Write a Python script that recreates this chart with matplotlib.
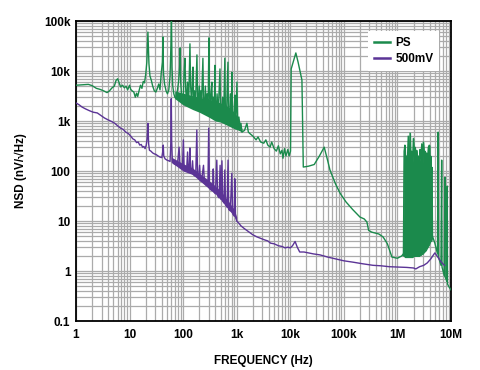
import matplotlib
matplotlib.use("Agg")
import matplotlib.pyplot as plt
from matplotlib.ticker import LogLocator, FixedLocator, NullFormatter
import numpy as np

# PS trace (Hz, nV/rtHz)
ps_freq = [1, 1.3, 1.7, 2.0, 2.4, 2.8, 3.3, 3.8, 4.2, 4.7, 5.2, 5.6, 6.0, 6.4, 6.8, 7.4, 8.0, 8.6, 9.2,
           10, 10.5, 11.2, 12, 12.8, 13.5, 14.2, 15, 16, 17, 18, 19, 20, 21, 22, 23, 24, 25.5, 27, 29,
           31, 33, 35, 37, 39, 41, 42, 43, 45, 48, 51, 54, 57, 59, 60.5, 62, 64, 67, 70, 74, 78, 82,
           86, 88, 90, 95, 100, 104, 108, 112, 116, 121, 127, 134, 138, 144, 150, 153, 157, 163, 170,
           176, 181, 186, 192, 200, 206, 213, 220, 228, 234, 240, 250, 260, 270, 280, 292, 303, 310,
           320, 333, 344, 352, 365, 380, 393, 400, 415, 430, 450, 470, 487, 500, 520, 545, 570, 600,
           615, 640, 686, 700, 730, 760, 790, 812, 830, 870, 900, 930, 960, 1010, 1050, 1100, 1150,
           1200, 1250, 1400, 1550, 1650, 1800, 2000, 2300, 2500, 2800, 3200, 3500, 3800, 4200, 4500,
           5000, 5500, 6000, 6500, 7000, 7300, 7800, 8300, 9000, 9500, 10100, 10400, 12700, 14000,
           16500, 17500, 22000, 28000, 35000, 43000, 50000, 55000, 70000, 85000, 110000, 146000,
           200000, 240000, 270000, 290000, 330000, 450000, 540000, 650000, 790000, 1.0e6, 1.2e6,
           1.29e6, 1.3e6, 4.4e6, 4.5e6, 5.0e6, 5.6e6, 5.75e6, 5.85e6, 6.5e6, 6.7e6, 6.8e6, 7.5e6,
           7.7e6, 7.8e6, 8.4e6, 8.5e6, 8.6e6, 9.2e6, 1.0e7]
ps_nsd = [5200, 5300, 5400, 5100, 4500, 4300, 4000, 3700, 4000, 4600, 5000, 6500, 7000, 5800, 4800,
          5200, 4600, 5000, 4200, 5200, 4300, 4000, 3800, 3000, 3600, 3100, 4000, 5200, 4500, 6200,
          5800, 8500, 15000, 60000, 14000, 8000, 6500, 5000, 4000, 3800, 4500, 5500, 4200, 9000,
          15000, 48000, 9000, 5500, 4000, 3500, 4200, 8000, 30000, 110000, 12000, 5000, 3500, 3000,
          2800, 4000, 6000, 12000, 29000, 6000, 2500, 2200, 9000, 18000, 4000, 2500, 6000, 2400,
          35000, 5000, 2200, 8000, 12000, 2500, 4000, 2000, 8000, 21000, 3000, 2000, 5000, 2500,
          4000, 2000, 7000, 18000, 2500, 1800, 5000, 2000, 3500, 1600, 46000, 4000, 1500, 4000,
          6000, 1500, 3000, 1400, 13000, 2500, 1300, 3500, 1300, 4000, 11000, 2000, 1100, 3000,
          1100, 18000, 1500, 1000, 15000, 1500, 950, 3500, 900, 9500, 1200, 850, 2000, 3300, 800,
          6000, 750, 1200, 650, 900, 600, 650, 900, 600, 550, 500, 420, 480, 380, 360, 420, 330,
          300, 380, 280, 250, 320, 220, 260, 180, 280, 200, 270, 200, 250, 11000, 23000, 15000,
          6600, 120, 125, 135, 200, 300, 160, 105, 55, 36, 24, 17, 12, 11, 9.5, 6.5, 6, 5.5, 4.8,
          3.5, 1.9, 1.8, 2.0, 2.2, 2.0, 4.0, 5.0, 3.6, 2.2, 600, 1.9, 1.3, 165, 1.2, 0.8, 75, 0.75,
          0.62, 50, 0.55, 0.48, 0.42]

# dense noise between the PS hum lines
ps_band_freq = [70, 100, 150, 200, 300, 400, 500, 700, 900, 1100, 1250]
ps_band_lo = [2800, 2100, 1700, 1500, 1200, 1000, 950, 800, 700, 650, 600]
ps_band_hi = [4000, 3600, 3200, 3000, 2700, 2500, 2300, 1900, 1500, 1100, 700]

# PS switching burst, 1.3 MHz to 4.4 MHz
burst_freq = [1.29e6, 1.33e6, 1.38e6, 1.43e6, 1.48e6, 1.53e6, 1.59e6, 1.65e6, 1.72e6, 1.78e6,
              1.84e6, 1.91e6, 1.98e6, 2.05e6, 2.13e6, 2.21e6, 2.29e6, 2.37e6, 2.46e6, 2.55e6,
              2.64e6, 2.74e6, 2.84e6, 2.94e6, 3.04e6, 3.15e6, 3.27e6, 3.39e6, 3.51e6, 3.64e6,
              3.77e6, 3.85e6, 3.93e6, 4.05e6, 4.16e6, 4.27e6, 4.37e6, 4.45e6]
burst_top = [2.2, 250, 330, 60, 200, 150, 500, 90, 575, 120, 250, 140, 450, 200, 300, 120, 260,
             150, 200, 110, 270, 180, 350, 140, 380, 200, 250, 120, 230, 160, 300, 150, 330, 130,
             200, 90, 120, 5]
burst_bottom = [2.2, 2.0, 1.9, 1.9, 1.9, 1.9, 1.9, 1.9, 1.9, 1.9, 1.9, 1.9, 2.0, 2.0, 2.0, 2.0, 2.0,
                2.0, 2.0, 2.0, 2.1, 2.1, 2.2, 2.2, 2.3, 2.4, 2.5, 2.6, 2.8, 3.0, 3.2, 3.3, 3.5, 3.8,
                4.1, 4.4, 4.8, 5.0]

# 500mV trace
mv_freq = [1, 1.15, 1.3, 1.5, 1.8, 2.1, 2.5, 2.9, 3.4, 4.0, 4.6, 5.3, 6.0, 6.8, 7.6, 8.5, 9.5, 10.5,
           11.5, 12.5, 13.5, 14.5, 15.5, 16.5, 17.5, 18.5, 19.5, 20.5, 21.3, 22, 22.7, 23.5, 25, 27,
           29, 31, 34, 37, 40, 41.5, 42.5, 43.5, 46, 50, 54, 57, 59, 60, 61, 63, 67, 72, 77, 80, 84,
           87, 92, 97, 101, 104, 110, 116, 121, 126, 131, 134, 138, 145, 150, 155, 165, 172, 180,
           186, 195, 203, 210, 220, 240, 250, 270, 290, 300, 310, 330, 355, 365, 375, 400, 425, 440,
           470, 490, 510, 530, 550, 580, 600, 620, 660, 690, 710, 760, 810, 840, 900, 920, 950, 1000,
           1100, 1200, 1400, 1700, 2000, 2400, 2800, 3300, 3800, 4300, 5000, 6000, 7000, 8000, 9000,
           10000, 11000, 12300, 13500, 15000, 18000, 22000, 27000, 36000, 50000, 70000, 100000,
           150000, 220000, 350000, 500000, 700000, 1.0e6, 1.5e6, 2.0e6, 2.2e6, 2.6e6, 3.1e6, 3.6e6,
           4.2e6, 4.7e6, 5.0e6, 5.5e6, 6.2e6, 7.0e6, 7.6e6]
mv_nsd = [2300, 2100, 1900, 1750, 1600, 1500, 1450, 1300, 1150, 1050, 980, 900, 800, 720, 680, 600,
          560, 500, 440, 420, 370, 380, 330, 340, 300, 310, 280, 330, 450, 900, 350, 260, 250, 230,
          220, 215, 200, 190, 185, 240, 330, 200, 175, 165, 160, 155, 400, 2800, 400, 150, 140, 135,
          130, 170, 300, 140, 120, 115, 420, 130, 110, 105, 240, 100, 95, 290, 95, 90, 160, 85, 80,
          85, 660, 80, 70, 130, 65, 62, 130, 58, 52, 50, 720, 45, 42, 40, 110, 38, 35, 165, 32, 29,
          130, 27, 160, 25, 23, 105, 21, 19, 165, 17, 16, 90, 14, 12.5, 70, 12, 10, 9, 8, 7, 6, 5.3,
          4.8, 4.5, 4.2, 4.0, 3.6, 3.5, 3.2, 3.1, 2.9, 3.0, 2.9, 3.2, 3.9, 3.0, 2.4, 2.4, 2.3, 2.2,
          2.1, 1.9, 1.75, 1.6, 1.5, 1.4, 1.3, 1.27, 1.22, 1.2, 1.18, 1.15, 1.1, 1.22, 1.3, 1.45, 1.75,
          2.1, 2.3, 2.0, 1.65, 1.4, 1.3]

mv_band_freq = [60, 100, 150, 200, 300, 400, 500, 700, 900, 1000]
mv_band_lo = [150, 100, 85, 65, 45, 35, 27, 17, 12.5, 10]
mv_band_hi = [190, 140, 115, 90, 65, 50, 40, 25, 17, 12]

x_ticks = [1, 10, 100, 1e3, 1e4, 1e5, 1e6, 1e7]
x_labels = ["1", "10", "100", "1k", "10k", "100k", "1M", "10M"]
y_ticks = [0.1, 1, 10, 100, 1e3, 1e4, 1e5]
y_labels = ["0.1", "1", "10", "100", "1k", "10k", "100k"]

green = "#1b8a4c"
purple = "#5b3496"

plt.rcParams["font.family"] = ["Liberation Sans", "DejaVu Sans"]
plt.rcParams["font.weight"] = "bold"

fig = plt.figure(figsize=(4.81, 3.70), dpi=100)
ax = fig.add_axes([0.158, 0.1324, 0.7796, 0.8108])

ax.fill_between(ps_band_freq, ps_band_lo, ps_band_hi, color=green, lw=0, zorder=3)
ax.fill_between(burst_freq, burst_bottom, burst_top, color=green, lw=0.8, zorder=3)
ax.plot(burst_freq, burst_top, color=green, lw=0.9, zorder=3)
ax.plot(ps_freq, ps_nsd, color=green, lw=1.0, label="PS", zorder=3)
ax.fill_between(mv_band_freq, mv_band_lo, mv_band_hi, color=purple, lw=0, zorder=4)
ax.plot(mv_freq, mv_nsd, color=purple, lw=1.0, label="500mV", zorder=4)

ax.set_xscale("log")
ax.set_yscale("log")
ax.set_xlim(1, 1e7)
ax.set_ylim(0.1, 1e5)

ax.xaxis.set_major_locator(FixedLocator(x_ticks))
ax.set_xticklabels(x_labels)
ax.yaxis.set_major_locator(FixedLocator(y_ticks))
ax.set_yticklabels(y_labels)
ax.xaxis.set_minor_locator(LogLocator(base=10, subs=np.arange(2, 10), numticks=100))
ax.yaxis.set_minor_locator(LogLocator(base=10, subs=np.arange(2, 10), numticks=100))
ax.xaxis.set_minor_formatter(NullFormatter())
ax.yaxis.set_minor_formatter(NullFormatter())

ax.grid(True, which="both", color="#ababab", lw=0.9, zorder=0)
ax.set_axisbelow(True)
ax.tick_params(which="both", length=0, labelsize=8.5)
ax.tick_params(axis="x", pad=6)
ax.tick_params(axis="y", pad=4)
for lbl in ax.get_xticklabels() + ax.get_yticklabels():
    lbl.set_fontweight("bold")
for sp in ax.spines.values():
    sp.set_linewidth(1.3)
    sp.set_color("black")

ax.set_xlabel("FREQUENCY (Hz)", fontsize=8.5, fontweight="bold", labelpad=10)
ax.set_ylabel("NSD (nV/\u221aHz)", fontsize=8.5, fontweight="bold", labelpad=12)

leg = ax.legend(loc="upper right", bbox_to_anchor=(0.985, 0.985), frameon=True,
                fancybox=False, edgecolor="none", framealpha=1, handlelength=1.3,
                handletextpad=0.5, borderpad=0.5, labelspacing=0.35,
                prop={"size": 8.5, "weight": "bold"})
leg.get_frame().set_linewidth(0)
for h in leg.get_lines():
    h.set_linewidth(1.8)

fig.savefig("out.png", dpi=100, facecolor="white")
